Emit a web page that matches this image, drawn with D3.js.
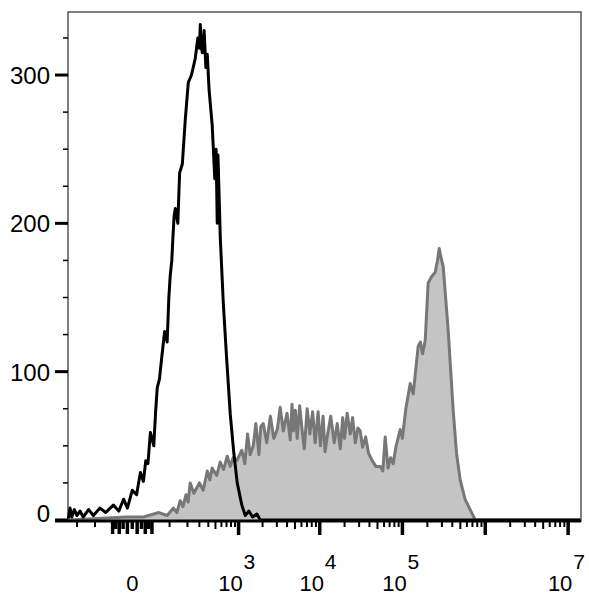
<!DOCTYPE html>
<html>
<head>
<style>
body { margin: 0; background: #fff; }
svg { font-family: "Liberation Sans", Arial, sans-serif; }
</style>
<script src="https://d3js.org/d3.v7.min.js"></script>
</head>
<body>
<svg id="chart" width="589" height="600"></svg>
<script>
// unstained (black line)
var controlX = [-270, -255, -240, -220, -200, -180, -160, -130, -107, -80, -60, -38, -25, -15, -8, 0, 7, 14, 20, 25, 30, 36, 45, 50, 55, 62, 70, 80, 90, 97, 103, 110, 115, 121, 127, 140, 150, 166, 185, 206, 230, 261, 285, 300, 309, 318, 330, 350, 370, 387, 410, 452, 490, 510, 528, 540, 580, 634, 700, 783, 870, 961, 1100, 1214, 1350, 1500, 1700, 1870, 3000, 1e5, 1.4e7];
var controlY = [1, 8, 2, 7, 3, 6, 2, 7, 3, 8, 5, 10, 6, 14, 8, 20, 17, 32, 26, 40, 38, 59, 50, 72, 89, 95, 110, 127, 120, 150, 165, 175, 190, 205, 210, 200, 234, 240, 270, 295, 300, 311, 325, 318, 334, 320, 315, 330, 305, 314, 290, 266, 230, 250, 200, 246, 190, 147, 110, 71, 45, 25, 10, 3, 6, 2, 4, 0, 0, 0, 0];
// stained (grey filled)
var stainX = [-270, -10, 20, 60, 90, 117, 135, 153, 170, 190, 205, 220, 250, 300, 340, 387, 420, 450, 520, 579, 640, 715, 780, 853, 950, 1100, 1200, 1300, 1400, 1530, 1650, 1800, 1900, 2040, 2250, 2500, 2750, 3036, 3300, 3600, 4000, 4378, 4600, 4800, 5050, 5324, 5700, 6100, 6500, 7040, 7600, 8200, 8800, 9570, 10200, 11000, 11600, 12320, 13600, 15000, 16300, 17760, 19000, 20000, 21500, 23430, 25000, 27000, 29000, 30910, 33000, 36000, 39000, 43175, 48000, 53955, 58000, 61985, 67000, 72000, 77440, 84000, 94050, 100000, 110000, 124190, 135000, 155000, 165000, 175000, 188400, 204700, 225000, 248800, 265000, 278000, 295000, 310600, 356800, 410100, 450000, 498000, 570000, 657000, 755700, 1e6, 1.4e7];
var stainY = [0, 2, 2, 5, 3, 8, 5, 13, 9, 17, 12, 25, 18, 25, 20, 33, 27, 35, 30, 39, 34, 43, 36, 42, 40, 47, 38, 58, 44, 50, 65, 44, 63, 65, 52, 70, 55, 61, 76, 60, 72, 54, 78, 60, 74, 55, 77, 61, 48, 75, 58, 73, 52, 73, 50, 70, 46, 56, 70, 52, 65, 48, 69, 55, 72, 58, 69, 52, 62, 60, 49, 56, 45, 40, 36, 36, 33, 56, 35, 42, 38, 50, 61, 55, 75, 92, 85, 117, 120, 112, 121, 160, 164, 167, 175, 183, 176, 171, 128, 74, 45, 27, 14, 7, 0, 0, 0];
var yTicks = [0, 100, 200, 300];
var xDecades = [3, 4, 5, 6, 7];
var xLabels = [{v: 0, base: "0", sup: ""}, {v: 1e3, base: "10", sup: "3"}, {v: 1e4, base: "10", sup: "4"}, {v: 1e5, base: "10", sup: "5"}, {v: 1e7, base: "10", sup: "7"}];

var svg = d3.select('#chart');
var pl = 68, pr = 581, pt = 12, pb = 521;

var x = d3.scaleSymlog().constant(55).domain([-273, 1.43e7]).range([pl, pr]);
var y = d3.scaleLinear().domain([-0.7, 342.5]).range([pb, pt]);

svg.append('rect').attr('x', pl).attr('y', pt).attr('width', pr - pl).attr('height', pb - pt)
	.attr('fill', 'none').attr('stroke', '#555').attr('stroke-width', 1.5);

var area = d3.area().x(function (d) { return x(d[0]); }).y0(y(0)).y1(function (d) { return y(d[1]); });
var line = d3.line().x(function (d) { return x(d[0]); }).y(function (d) { return y(d[1]); });
var stain = d3.zip(stainX, stainY), ctrl = d3.zip(controlX, controlY);

svg.append('path').datum(stain).attr('d', area).attr('fill', '#c4c4c4');
svg.append('path').datum(stain).attr('d', line).attr('fill', 'none').attr('stroke', '#777').attr('stroke-width', 3).attr('stroke-linejoin', 'round');
svg.append('path').datum(ctrl).attr('d', line).attr('fill', 'none').attr('stroke', '#000').attr('stroke-width', 3).attr('stroke-linejoin', 'round');

// y axis
var yMinor = d3.range(0, 341, 25);
svg.selectAll('.ymin').data(yMinor).enter().append('line')
	.attr('x1', pl - 5).attr('x2', pl).attr('y1', y).attr('y2', y).attr('stroke', '#000').attr('stroke-width', 1.5);
svg.selectAll('.ymaj').data(yTicks).enter().append('line')
	.attr('x1', pl - 13).attr('x2', pl).attr('y1', y).attr('y2', y).attr('stroke', '#000').attr('stroke-width', 3);
svg.selectAll('.ylab').data(yTicks).enter().append('text')
	.attr('x', 50).attr('y', function (d) { return d === 0 ? y(d) + 2 : y(d) + 9; })
	.attr('text-anchor', 'end').attr('font-size', 24).text(function (d) { return d; });

// x axis
svg.append('line').attr('x1', 55).attr('x2', pr).attr('y1', pb).attr('y2', pb).attr('stroke', '#000').attr('stroke-width', 3);
var minor = [-200, -100];
[2, 3, 4, 5, 6].forEach(function (k) { for (var m = 1; m < 10; m++) { if (!(m === 1 && k > 2)) minor.push(m * Math.pow(10, k)); } });
minor = minor.filter(function (v) { return x(v) < pr - 2; });
svg.selectAll('.xmin').data(minor).enter().append('line')
	.attr('x1', x).attr('x2', x).attr('y1', pb).attr('y2', function (d) { return pb + (String(d)[0] === '5' ? 8 : 6); })
	.attr('stroke', '#000').attr('stroke-width', 2);
var zeroTicks = [-40, -32, -24, -16, -8, 0, 8, 16, 24, 32, 40];
svg.selectAll('.xzero').data(zeroTicks).enter().append('line')
	.attr('x1', x).attr('x2', x).attr('y1', pb).attr('y2', function (d, i) { return pb + (i % 2 ? 8 : 13); })
	.attr('stroke', '#000').attr('stroke-width', 3.5);
svg.selectAll('.xmaj').data(xDecades).enter().append('line')
	.attr('x1', function (d) { return x(Math.pow(10, d)); }).attr('x2', function (d) { return x(Math.pow(10, d)); })
	.attr('y1', pb).attr('y2', pb + 14).attr('stroke', '#000').attr('stroke-width', 3.5);

svg.selectAll('.xlab').data(xLabels).enter().append('text')
	.attr('x', function (d) { return x(d.v) - (d.sup ? 8 : 0); }).attr('y', 591).attr('font-size', 22).attr('text-anchor', 'middle')
	.text(function (d) { return d.base; });
svg.selectAll('.xsup').data(xLabels.filter(function (d) { return d.sup; })).enter().append('text')
	.attr('x', function (d) { return x(d.v) + 5; }).attr('y', 569).attr('font-size', 21)
	.text(function (d) { return d.sup; });
</script>
</body>
</html>
